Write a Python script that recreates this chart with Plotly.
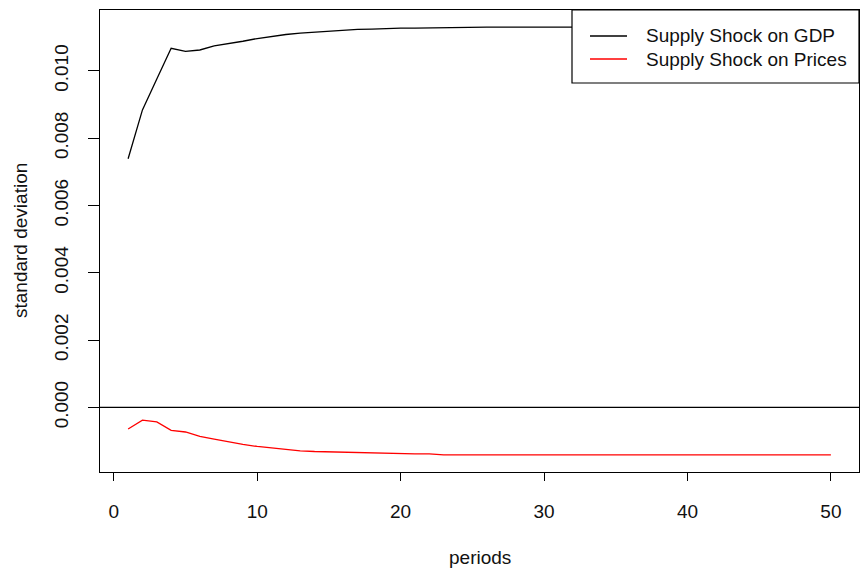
import plotly.graph_objects as go

# Forecast-error standard deviations by horizon
periods = list(range(1, 51))

gdp_sd = [
    0.00739, 0.00884, 0.00976, 0.01067, 0.01058, 0.01062, 0.01074, 0.01080,
    0.01088, 0.01096, 0.01103, 0.01108, 0.01112, 0.01115, 0.01119, 0.01122,
    0.01123, 0.01124, 0.01126, 0.01127, 0.01127, 0.01128, 0.01129, 0.01130,
    0.01130, 0.01130, 0.01130, 0.01130, 0.01130, 0.01130, 0.01130, 0.01130,
    0.01130, 0.01130, 0.01130, 0.01130, 0.01130, 0.01130, 0.01130, 0.01130,
    0.01130, 0.01130, 0.01130, 0.01130, 0.01130, 0.01130, 0.01130, 0.01130,
    0.01130, 0.01130,
]

prices_sd = [
    -0.00064, -0.00038, -0.00043, -0.00068, -0.00073, -0.00086, -0.00094, -0.00103,
    -0.00110, -0.00116, -0.00121, -0.00126, -0.00129, -0.00131, -0.00132, -0.00134,
    -0.00136, -0.00137, -0.00138, -0.00138, -0.00138, -0.00138, -0.00141, -0.00141,
    -0.00141, -0.00141, -0.00141, -0.00141, -0.00141, -0.00141, -0.00141, -0.00141,
    -0.00141, -0.00141, -0.00141, -0.00141, -0.00141, -0.00141, -0.00141, -0.00141,
    -0.00141, -0.00141, -0.00141, -0.00141, -0.00141, -0.00141, -0.00141, -0.00141,
    -0.00141, -0.00141,
]

series_names = ["Supply Shock on GDP", "Supply Shock on Prices"]
series_colors = ["#000000", "#ff0000"]

x_ticks = [0, 10, 20, 30, 40, 50]
y_ticks = [0.000, 0.002, 0.004, 0.006, 0.008, 0.010]

FONT = "Liberation Sans, Arial, sans-serif"
TEXT = "#111111"
W, H = 864, 576
ML, MR, MT, MB = 100, 5, 10, 104
PW, PH = W - ML - MR, H - MT - MB


def px_x(p):
    return (p - ML) / PW


def px_y(p):
    return (H - MB - p) / PH


def padded(lo, hi, frac=0.04):
    d = (hi - lo) * frac
    return [lo - d, hi + d]


x_range = padded(min(periods), max(periods))
y_range = padded(min(prices_sd), max(gdp_sd))

fig = go.Figure()
for name, vals, col in zip(series_names, [gdp_sd, prices_sd], series_colors):
    fig.add_trace(go.Scatter(
        x=periods, y=vals, mode="lines", name=name,
        line=dict(color=col, width=1.3), showlegend=False,
    ))

shapes = [
    # horizontal reference line at zero
    dict(type="line", xref="paper", yref="y", x0=0, x1=1, y0=0, y1=0,
         line=dict(color="black", width=1.2), layer="above"),
    # boxed legend in the top-right corner
    dict(type="rect", xref="paper", yref="paper",
         x0=px_x(572), x1=1.0, y0=px_y(83), y1=1.0,
         line=dict(color="black", width=1.2), fillcolor="white", layer="above"),
]
annotations = []
for i, (name, col) in enumerate(zip(series_names, series_colors)):
    yy = px_y(36 + 23 * i)
    shapes.append(dict(
        type="line", xref="paper", yref="paper",
        x0=px_x(590), x1=px_x(627), y0=yy, y1=yy,
        line=dict(color=col, width=1.3), layer="above",
    ))
    annotations.append(dict(
        xref="paper", yref="paper", x=px_x(644), y=yy,
        xanchor="left", yanchor="middle", text=name, showarrow=False,
        font=dict(family=FONT, size=19, color=TEXT),
    ))

# axis titles
annotations.append(dict(
    xref="paper", yref="paper", x=0.5, y=px_y(557),
    xanchor="center", yanchor="middle", text="periods", showarrow=False,
    font=dict(family=FONT, size=19, color=TEXT),
))
annotations.append(dict(
    xref="paper", yref="paper", x=px_x(20), y=0.5,
    xanchor="center", yanchor="middle", text="standard deviation",
    textangle=-90, showarrow=False,
    font=dict(family=FONT, size=19, color=TEXT),
))

fig.update_layout(
    width=W, height=H,
    margin=dict(l=ML, r=MR, t=MT, b=MB),
    paper_bgcolor="white", plot_bgcolor="white",
    shapes=shapes, annotations=annotations,
    xaxis=dict(
        range=x_range, tickvals=x_ticks, ticks="outside", ticklen=8,
        tickcolor="black", tickwidth=1.2, showgrid=False, zeroline=False,
        showline=True, linecolor="black", linewidth=1.2, mirror=True,
        ticklabelstandoff=14,
        tickfont=dict(family=FONT, size=19, color=TEXT),
    ),
    yaxis=dict(
        range=y_range, tickvals=y_ticks, tickformat=".3f", ticks="outside",
        ticklen=11, tickcolor="black", tickwidth=1.2, showgrid=False,
        zeroline=False, showline=True, linecolor="black", linewidth=1.2,
        mirror=True, tickangle=-90, ticklabelstandoff=12,
        tickfont=dict(family=FONT, size=19, color=TEXT),
    ),
)

fig.write_html("out.html")
